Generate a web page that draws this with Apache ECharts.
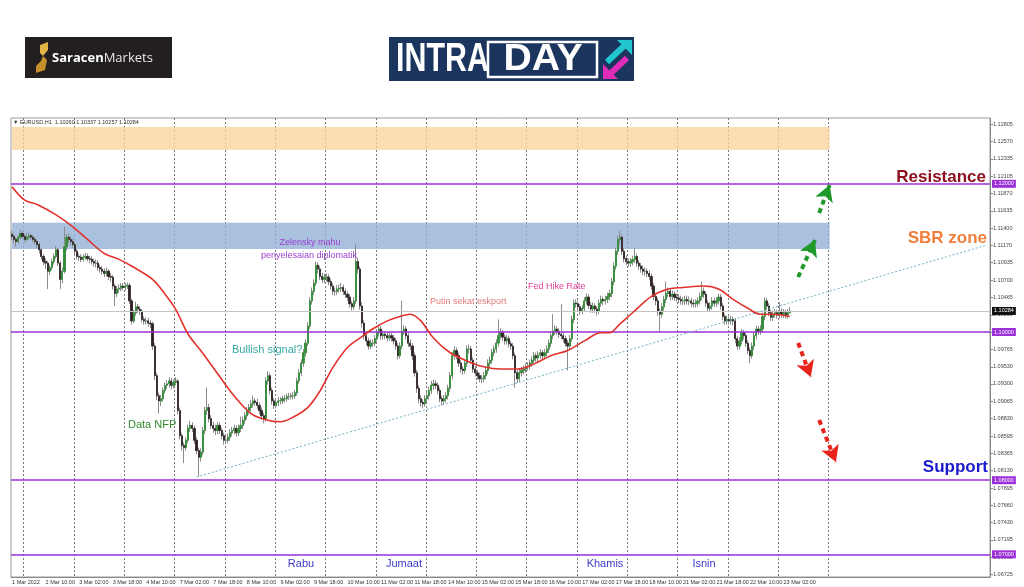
<!DOCTYPE html>
<html><head><meta charset="utf-8">
<script src="https://cdn.jsdelivr.net/npm/echarts@6/dist/echarts.min.js"></script>
<style>html,body{margin:0;padding:0;background:#fff}#c{width:1024px;height:587px}</style>
</head><body><div id="c"></div>
<script>
// x-axis tick labels (one every 16 hourly bars)
const xLabels = ['1 Mar 2022','2 Mar 10:00','3 Mar 02:00','3 Mar 18:00','4 Mar 10:00','7 Mar 02:00','7 Mar 18:00','8 Mar 10:00','9 Mar 02:00','9 Mar 18:00','10 Mar 10:00','11 Mar 02:00','11 Mar 18:00','14 Mar 10:00','15 Mar 02:00','15 Mar 18:00','16 Mar 10:00','17 Mar 02:00','17 Mar 18:00','18 Mar 10:00','21 Mar 02:00','21 Mar 18:00','22 Mar 10:00','23 Mar 02:00'];
// y-axis tick labels
const yTicks = [1.12805,1.12570,1.12335,1.12105,1.11870,1.11635,1.11400,1.11170,1.10935,1.10700,1.10465,1.10230,1.09995,1.09765,1.09530,1.09300,1.09065,1.08830,1.08595,1.08365,1.08130,1.07895,1.07660,1.07430,1.07195,1.06960,1.06725];
// EURUSD H1 candles [open, close, low, high]
const candles = [
[1.1132,1.1129,1.1124,1.1137],[1.1129,1.1125,1.1120,1.1133],[1.1125,1.1122,1.1115,1.1128],[1.1122,1.1128,1.1119,1.1131],[1.1128,1.1133,1.1125,1.1138],
[1.1133,1.1129,1.1126,1.1136],[1.1129,1.1125,1.1121,1.1132],[1.1125,1.1128,1.1122,1.1133],[1.1128,1.1130,1.1125,1.1134],[1.1130,1.1128,1.1124,1.1133],
[1.1128,1.1125,1.1121,1.1131],[1.1125,1.1122,1.1118,1.1128],[1.1122,1.1118,1.1114,1.1125],[1.1118,1.1111,1.1106,1.1121],[1.1111,1.1102,1.1098,1.1114],
[1.1102,1.1095,1.1090,1.1105],[1.1095,1.1093,1.1085,1.1099],[1.1093,1.1082,1.1058,1.1096],[1.1082,1.1087,1.1077,1.1091],[1.1087,1.1095,1.1083,1.1099],
[1.1095,1.1102,1.1091,1.1106],[1.1102,1.1111,1.1099,1.1116],[1.1111,1.1093,1.1089,1.1114],[1.1093,1.1071,1.1058,1.1096],[1.1071,1.1082,1.1066,1.1087],
[1.1082,1.1115,1.1079,1.1142],[1.1115,1.1128,1.1110,1.1132],[1.1128,1.1125,1.1120,1.1133],[1.1125,1.1122,1.1117,1.1129],[1.1122,1.1118,1.1114,1.1126],
[1.1118,1.1109,1.1105,1.1121],[1.1109,1.1102,1.1098,1.1112],[1.1102,1.1101,1.1096,1.1106],[1.1101,1.1098,1.1094,1.1105],[1.1098,1.1101,1.1095,1.1105],
[1.1101,1.1102,1.1097,1.1107],[1.1102,1.1099,1.1095,1.1106],[1.1099,1.1098,1.1093,1.1103],[1.1098,1.1095,1.1091,1.1102],[1.1095,1.1093,1.1088,1.1099],
[1.1093,1.1093,1.1087,1.1098],[1.1093,1.1087,1.1083,1.1097],[1.1087,1.1085,1.1080,1.1091],[1.1085,1.1082,1.1077,1.1089],[1.1082,1.1079,1.1074,1.1086],
[1.1079,1.1082,1.1075,1.1087],[1.1082,1.1075,1.1070,1.1085],[1.1075,1.1074,1.1068,1.1080],[1.1074,1.1062,1.1057,1.1077],[1.1062,1.1052,1.1035,1.1065],
[1.1052,1.1058,1.1047,1.1062],[1.1058,1.1059,1.1053,1.1064],[1.1059,1.1062,1.1055,1.1066],[1.1062,1.1060,1.1056,1.1066],[1.1060,1.1062,1.1056,1.1066],
[1.1062,1.1063,1.1058,1.1067],[1.1063,1.1042,1.1038,1.1066],[1.1042,1.1015,1.1010,1.1045],[1.1015,1.1026,1.1012,1.1030],[1.1026,1.1034,1.1022,1.1041],
[1.1034,1.1031,1.1026,1.1038],[1.1031,1.1028,1.1023,1.1035],[1.1028,1.1017,1.1013,1.1031],[1.1017,1.1015,1.1010,1.1021],[1.1015,1.1015,1.1010,1.1020],
[1.1015,1.1012,1.1007,1.1019],[1.1012,1.1011,1.1005,1.1016],[1.1011,1.0981,1.0976,1.1014],[1.0981,1.0941,1.0935,1.0985],[1.0941,1.0914,1.0908,1.0945],
[1.0914,1.0907,1.0890,1.0918],[1.0907,1.0910,1.0900,1.0915],[1.0910,1.0921,1.0906,1.0925],[1.0921,1.0928,1.0917,1.0932],[1.0928,1.0930,1.0923,1.0935],
[1.0930,1.0934,1.0925,1.0939],[1.0934,1.0928,1.0923,1.0938],[1.0928,1.0932,1.0924,1.0936],[1.0932,1.0934,1.0928,1.0939],[1.0934,1.0894,1.0889,1.0937],
[1.0894,1.0860,1.0855,1.0898],[1.0860,1.0847,1.0840,1.0864],[1.0847,1.0844,1.0823,1.0851],[1.0844,1.0854,1.0840,1.0858],[1.0854,1.0870,1.0850,1.0875],
[1.0870,1.0874,1.0865,1.0880],[1.0874,1.0870,1.0865,1.0878],[1.0870,1.0854,1.0849,1.0874],[1.0854,1.0840,1.0835,1.0858],[1.0840,1.0831,1.0805,1.0844],
[1.0831,1.0838,1.0825,1.0843],[1.0838,1.0867,1.0834,1.0872],[1.0867,1.0894,1.0862,1.0899],[1.0894,1.0898,1.0888,1.0925],[1.0898,1.0883,1.0878,1.0903],
[1.0883,1.0874,1.0869,1.0888],[1.0874,1.0870,1.0864,1.0879],[1.0870,1.0867,1.0861,1.0875],[1.0867,1.0874,1.0862,1.0879],[1.0874,1.0867,1.0862,1.0878],
[1.0867,1.0860,1.0855,1.0871],[1.0860,1.0854,1.0848,1.0864],[1.0854,1.0854,1.0849,1.0860],[1.0854,1.0858,1.0850,1.0863],[1.0858,1.0864,1.0853,1.0869],
[1.0864,1.0867,1.0859,1.0872],[1.0867,1.0870,1.0862,1.0875],[1.0870,1.0864,1.0859,1.0874],[1.0864,1.0870,1.0860,1.0875],[1.0870,1.0874,1.0865,1.0886],
[1.0874,1.0881,1.0869,1.0886],[1.0881,1.0887,1.0876,1.0892],[1.0887,1.0894,1.0882,1.0899],[1.0894,1.0898,1.0889,1.0903],[1.0898,1.0903,1.0893,1.0908],
[1.0903,1.0907,1.0898,1.0914],[1.0907,1.0905,1.0900,1.0911],[1.0905,1.0901,1.0896,1.0910],[1.0901,1.0894,1.0889,1.0905],[1.0894,1.0887,1.0882,1.0898],
[1.0887,1.0883,1.0877,1.0891],[1.0883,1.0934,1.0879,1.0939],[1.0934,1.0941,1.0929,1.0947],[1.0941,1.0921,1.0916,1.0945],[1.0921,1.0907,1.0902,1.0925],
[1.0907,1.0901,1.0896,1.0911],[1.0901,1.0905,1.0897,1.0910],[1.0905,1.0907,1.0900,1.0912],[1.0907,1.0907,1.0902,1.0912],[1.0907,1.0910,1.0903,1.0914],
[1.0910,1.0910,1.0905,1.0915],[1.0910,1.0913,1.0906,1.0917],[1.0913,1.0913,1.0908,1.0918],[1.0913,1.0914,1.0909,1.0918],[1.0914,1.0914,1.0909,1.0919],
[1.0914,1.0918,1.0910,1.0922],[1.0918,1.0934,1.0914,1.0938],[1.0934,1.0945,1.0930,1.0950],[1.0945,1.0958,1.0941,1.0963],[1.0958,1.0972,1.0953,1.0977],
[1.0972,1.0985,1.0967,1.0990],[1.0985,1.1008,1.0981,1.1013],[1.1008,1.1042,1.1004,1.1047],[1.1042,1.1055,1.1037,1.1060],[1.1055,1.1066,1.1050,1.1071],
[1.1066,1.1090,1.1062,1.1095],[1.1090,1.1085,1.1079,1.1094],[1.1085,1.1075,1.1070,1.1089],[1.1075,1.1071,1.1066,1.1080],[1.1071,1.1074,1.1066,1.1079],
[1.1074,1.1074,1.1068,1.1079],[1.1074,1.1068,1.1063,1.1078],[1.1068,1.1062,1.1057,1.1072],[1.1062,1.1055,1.1050,1.1066],[1.1055,1.1055,1.1049,1.1060],
[1.1055,1.1058,1.1050,1.1063],[1.1058,1.1059,1.1053,1.1064],[1.1059,1.1060,1.1054,1.1066],[1.1060,1.1055,1.1050,1.1064],[1.1055,1.1051,1.1046,1.1059],
[1.1051,1.1047,1.1042,1.1055],[1.1047,1.1038,1.1033,1.1051],[1.1038,1.1034,1.1029,1.1042],[1.1034,1.1042,1.1030,1.1047],[1.1042,1.1095,1.1038,1.1118],
[1.1095,1.1085,1.1079,1.1100],[1.1085,1.1035,1.1030,1.1089],[1.1035,1.1012,1.1006,1.1040],[1.1012,1.0995,1.0990,1.1016],[1.0995,1.0988,1.0982,1.0999],
[1.0988,1.0981,1.0976,1.0992],[1.0981,1.0985,1.0977,1.0990],[1.0985,1.0985,1.0980,1.0990],[1.0985,1.0991,1.0981,1.0996],[1.0991,1.0999,1.0987,1.1004],
[1.0999,1.1004,1.0994,1.1010],[1.1004,1.0995,1.0990,1.1008],[1.0995,1.0997,1.0990,1.1002],[1.0997,1.0995,1.0990,1.1001],[1.0995,1.0992,1.0987,1.0999],
[1.0992,1.0995,1.0988,1.1000],[1.0995,1.0992,1.0987,1.0999],[1.0992,1.0988,1.0983,1.0996],[1.0988,1.0981,1.0976,1.0992],[1.0981,1.0968,1.0963,1.0985],
[1.0968,1.0981,1.0964,1.0986],[1.0981,1.1001,1.0977,1.1042],[1.1001,1.1004,1.0996,1.1009],[1.1004,1.0995,1.0990,1.1008],[1.0995,1.0985,1.0980,1.0999],
[1.0985,1.0981,1.0976,1.0990],[1.0981,1.0968,1.0962,1.0985],[1.0968,1.0945,1.0940,1.0972],[1.0945,1.0924,1.0918,1.0949],[1.0924,1.0910,1.0904,1.0928],
[1.0910,1.0905,1.0899,1.0915],[1.0905,1.0903,1.0897,1.0909],[1.0903,1.0910,1.0899,1.0915],[1.0910,1.0914,1.0905,1.0919],[1.0914,1.0921,1.0909,1.0926],
[1.0921,1.0928,1.0916,1.0934],[1.0928,1.0930,1.0922,1.0936],[1.0930,1.0928,1.0923,1.0935],[1.0928,1.0921,1.0916,1.0932],[1.0921,1.0910,1.0905,1.0925],
[1.0910,1.0907,1.0901,1.0914],[1.0907,1.0910,1.0902,1.0915],[1.0910,1.0914,1.0905,1.0919],[1.0914,1.0924,1.0909,1.0929],[1.0924,1.0941,1.0919,1.0946],
[1.0941,1.0968,1.0936,1.0973],[1.0968,1.0975,1.0963,1.0981],[1.0975,1.0968,1.0963,1.0979],[1.0968,1.0958,1.0953,1.0972],[1.0958,1.0950,1.0945,1.0962],
[1.0950,1.0948,1.0942,1.0954],[1.0948,1.0958,1.0944,1.0963],[1.0958,1.0977,1.0953,1.0982],[1.0977,1.0977,1.0971,1.0983],[1.0977,1.0962,1.0957,1.0981],
[1.0962,1.0950,1.0945,1.0966],[1.0950,1.0945,1.0940,1.0954],[1.0945,1.0941,1.0936,1.0949],[1.0941,1.0937,1.0932,1.0945],[1.0937,1.0937,1.0931,1.0942],
[1.0937,1.0941,1.0932,1.0946],[1.0941,1.0948,1.0936,1.0953],[1.0948,1.0958,1.0943,1.0963],[1.0958,1.0962,1.0953,1.0967],[1.0962,1.0972,1.0957,1.0977],
[1.0972,1.0977,1.0967,1.0982],[1.0977,1.0985,1.0972,1.0990],[1.0985,1.0995,1.0980,1.1017],[1.0995,1.0999,1.0990,1.1005],[1.0999,1.0993,1.0988,1.1003],
[1.0993,1.0988,1.0983,1.0997],[1.0988,1.0991,1.0983,1.0996],[1.0991,1.0984,1.0979,1.0995],[1.0984,1.0981,1.0976,1.0988],[1.0981,1.0968,1.0963,1.0985],
[1.0968,1.0945,1.0925,1.0972],[1.0945,1.0937,1.0931,1.0949],[1.0937,1.0945,1.0933,1.0950],[1.0945,1.0948,1.0940,1.0953],[1.0948,1.0950,1.0943,1.0955],
[1.0950,1.0953,1.0945,1.0958],[1.0953,1.0954,1.0948,1.0959],[1.0954,1.0958,1.0949,1.0963],[1.0958,1.0962,1.0953,1.0967],[1.0962,1.0968,1.0957,1.0973],
[1.0968,1.0965,1.0960,1.0972],[1.0965,1.0969,1.0960,1.0974],[1.0969,1.0972,1.0964,1.0977],[1.0972,1.0968,1.0963,1.0976],[1.0968,1.0972,1.0963,1.0977],
[1.0972,1.0977,1.0967,1.0982],[1.0977,1.0985,1.0972,1.0990],[1.0985,1.0995,1.0980,1.1000],[1.0995,1.1001,1.0990,1.1024],[1.1001,1.1004,1.0996,1.1009],
[1.1004,1.1001,1.0996,1.1008],[1.1001,1.0997,1.0992,1.1005],[1.0997,1.0995,1.0990,1.1038],[1.0995,1.0991,1.0986,1.0999],[1.0991,1.0985,1.0980,1.0995],
[1.0985,1.0981,1.0948,1.0989],[1.0981,1.0991,1.0977,1.0996],[1.0991,1.1017,1.0987,1.1022],[1.1017,1.1039,1.1012,1.1044],[1.1039,1.1038,1.1033,1.1044],
[1.1038,1.1034,1.1029,1.1042],[1.1034,1.1028,1.1023,1.1038],[1.1028,1.1032,1.1024,1.1037],[1.1032,1.1042,1.1027,1.1047],[1.1042,1.1047,1.1037,1.1052],
[1.1047,1.1036,1.1031,1.1051],[1.1036,1.1031,1.1026,1.1040],[1.1031,1.1035,1.1026,1.1040],[1.1035,1.1031,1.1026,1.1039],[1.1031,1.1028,1.1022,1.1035],
[1.1028,1.1039,1.1024,1.1044],[1.1039,1.1044,1.1034,1.1049],[1.1044,1.1042,1.1036,1.1048],[1.1042,1.1044,1.1037,1.1049],[1.1044,1.1048,1.1039,1.1053],
[1.1048,1.1052,1.1043,1.1057],[1.1052,1.1068,1.1047,1.1073],[1.1068,1.1089,1.1063,1.1094],[1.1089,1.1109,1.1084,1.1114],[1.1109,1.1125,1.1104,1.1130],
[1.1125,1.1128,1.1119,1.1137],[1.1128,1.1109,1.1104,1.1132],[1.1109,1.1099,1.1094,1.1113],[1.1099,1.1095,1.1090,1.1103],[1.1095,1.1093,1.1088,1.1099],
[1.1093,1.1095,1.1088,1.1100],[1.1095,1.1098,1.1090,1.1103],[1.1098,1.1102,1.1093,1.1113],[1.1102,1.1093,1.1088,1.1106],[1.1093,1.1089,1.1084,1.1097],
[1.1089,1.1085,1.1080,1.1093],[1.1085,1.1082,1.1077,1.1090],[1.1082,1.1082,1.1076,1.1087],[1.1082,1.1079,1.1074,1.1086],[1.1079,1.1075,1.1070,1.1083],
[1.1075,1.1062,1.1057,1.1079],[1.1062,1.1048,1.1043,1.1066],[1.1048,1.1042,1.1036,1.1052],[1.1042,1.1028,1.1022,1.1046],[1.1028,1.1024,1.1001,1.1032],
[1.1024,1.1034,1.1019,1.1039],[1.1034,1.1044,1.1029,1.1049],[1.1044,1.1052,1.1039,1.1068],[1.1052,1.1055,1.1047,1.1060],[1.1055,1.1048,1.1043,1.1059],
[1.1048,1.1051,1.1043,1.1056],[1.1051,1.1047,1.1042,1.1055],[1.1047,1.1046,1.1041,1.1052],[1.1046,1.1044,1.1039,1.1051],[1.1044,1.1042,1.1037,1.1049],
[1.1042,1.1042,1.1036,1.1047],[1.1042,1.1044,1.1037,1.1049],[1.1044,1.1042,1.1037,1.1049],[1.1042,1.1042,1.1036,1.1048],[1.1042,1.1039,1.1034,1.1046],
[1.1039,1.1038,1.1033,1.1044],[1.1038,1.1039,1.1033,1.1044],[1.1039,1.1042,1.1034,1.1047],[1.1042,1.1048,1.1037,1.1053],[1.1048,1.1055,1.1043,1.1068],
[1.1055,1.1051,1.1046,1.1060],[1.1051,1.1039,1.1034,1.1055],[1.1039,1.1032,1.1027,1.1043],[1.1032,1.1035,1.1027,1.1040],[1.1035,1.1042,1.1030,1.1047],
[1.1042,1.1039,1.1034,1.1046],[1.1039,1.1042,1.1034,1.1047],[1.1042,1.1047,1.1037,1.1052],[1.1047,1.1035,1.1030,1.1051],[1.1035,1.1021,1.1016,1.1039],
[1.1021,1.1015,1.1010,1.1025],[1.1015,1.1017,1.1010,1.1022],[1.1017,1.1015,1.1010,1.1021],[1.1015,1.1017,1.1010,1.1022],[1.1017,1.1015,1.1009,1.1021],
[1.1015,1.0991,1.0985,1.1019],[1.0991,1.0981,1.0976,1.0995],[1.0981,1.0988,1.0976,1.0993],[1.0988,1.0999,1.0983,1.1004],[1.0999,1.0995,1.0990,1.1003],
[1.0995,1.0985,1.0980,1.0999],[1.0985,1.0975,1.0970,1.0989],[1.0975,1.0968,1.0958,1.0979],[1.0968,1.0981,1.0964,1.0986],[1.0981,1.0995,1.0976,1.1000],
[1.0995,1.1004,1.0990,1.1009],[1.1004,1.1001,1.0996,1.1008],[1.1001,1.1004,1.0996,1.1009],[1.1004,1.1021,1.0999,1.1026],[1.1021,1.1042,1.1016,1.1047],
[1.1042,1.1035,1.1030,1.1046],[1.1035,1.1026,1.1021,1.1039],[1.1026,1.1020,1.1015,1.1030],[1.1020,1.1024,1.1015,1.1029],[1.1024,1.1026,1.1019,1.1031],
[1.1026,1.1023,1.1018,1.1030],[1.1023,1.1028,1.1018,1.1040],[1.1028,1.1024,1.1019,1.1032],[1.1024,1.1026,1.1019,1.1031],[1.1026,1.1023,1.1018,1.1030],
[1.1023,1.1026,1.1018,1.1031],[1.10260,1.10284,1.10257,1.10337]
];
// red moving-average line: [bar index, value]
const maPoints = [[0,1.1196],[6,1.1178],[12,1.1172],[21,1.1158],[29,1.1142],[36,1.1125],[44,1.1106],[51,1.1098],[57,1.1089],[67,1.1071],[73,1.1051],[78,1.1031],[84,1.0997],[90,1.0975],[98,1.0944],[105,1.0917],[114,1.0890],[122,1.0881],[128,1.0879],[134,1.0885],[141,1.0898],[147,1.0921],[153,1.0952],[160,1.0979],[166,1.0992],[172,1.1004],[179,1.1015],[185,1.1021],[190,1.1024],[195,1.1015],[201,1.0992],[209,1.0972],[217,1.0961],[225,1.0953],[233,1.0950],[241,1.0950],[249,1.0957],[257,1.0968],[265,1.0975],[273,1.0988],[281,1.0999],[285,1.0999],[290,1.1011],[296,1.1026],[305,1.1048],[313,1.1058],[320,1.1060],[330,1.1062],[337,1.1058],[344,1.1044],[351,1.1032],[357,1.1024],[363,1.1024],[371,1.1021]];
// horizontal levels
const levels = [1.12000, 1.10000, 1.08000, 1.07000];
const lastPrice = 1.10284;
// zones [from bar, to bar, top, bottom]
const zoneOrange = [0, 390, 1.12767, 1.12456];
const zoneBlue = [0, 390, 1.11475, 1.11120];
// dotted trend line [bar, price]
const trendLine = [[88, 1.08043], [465, 1.11174]];
// projected arrows [[bar, price] from, [bar, price] to]
const arrowsUp = [[[375, 1.10742], [383, 1.11242]], [[385, 1.11606], [390, 1.11984]]];
const arrowsDown = [[[375, 1.09852], [381, 1.09393]], [[385, 1.08812], [393, 1.08246]]];
const totalBars = 467;

const cats = Array.from({length: totalBars}, (_, i) => String(i));
const bodies = candles.map(c => [c[0], c[1], Math.min(c[0], c[1]), Math.max(c[0], c[1])]);
const FONT = 'Liberation Sans, Arial, sans-serif';

const chart = echarts.init(document.getElementById('c'), null, {renderer: 'canvas'});
const labelIdx = i => i % 16 === 0 && i / 16 < xLabels.length;

const arrowItems = (list, color) => list.map(a => [
  {coord: a[0], symbol: 'none'},
  {coord: a[1], symbol: 'arrow', symbolSize: [14, 16], lineStyle: {color: color, width: 4, type: [5, 4]}, itemStyle: {color: color}}
]);

const txt = (text, x, y, size, color, opts) => ({type: 'text', z: 100, style: Object.assign({text: text, x: x, y: y, fontSize: size, fontFamily: FONT, fill: color, align: 'left', verticalAlign: 'middle'}, opts || {})});
const logoTxt = (text, x, y, size, sx, align) => ({type: 'text', z: 101, x: x, y: y, scaleX: sx, scaleY: 1,
  style: {text: text, x: 0, y: 0, align: align, verticalAlign: 'middle', fontSize: size, fontWeight: 'bold', fontFamily: FONT, fill: '#fff'}});

chart.setOption({
  animation: false,
  backgroundColor: '#fff',
  grid: {left: 11, right: 34, top: 118, bottom: 10, show: true, borderColor: '#9a9a9a', borderWidth: 1},
  xAxis: {
    type: 'category', data: cats, boundaryGap: true,
    axisLine: {lineStyle: {color: '#888'}},
    axisTick: {interval: labelIdx, alignWithLabel: true, length: 3, lineStyle: {color: '#888'}},
    axisLabel: {interval: labelIdx, formatter: (v, i) => xLabels[Math.round(Number(v) / 16)], fontSize: 5.5, color: '#333', align: 'left', margin: 2, fontFamily: FONT},
    splitLine: {show: true, interval: i => i % 24 === 6 && i <= 390, lineStyle: {color: '#777', type: [2, 2], width: 1}}
  },
  yAxis: {
    type: 'value', position: 'right', min: 1.06694, max: 1.12888, scale: true,
    axisLine: {show: true, lineStyle: {color: '#888'}},
    axisTick: {show: true, customValues: yTicks, length: 3, lineStyle: {color: '#888'}},
    axisLabel: {customValues: yTicks, formatter: v => v.toFixed(5), fontSize: 5.5, color: '#444', margin: 3, fontFamily: FONT},
    splitLine: {show: false}
  },
  series: [
    {
      type: 'line', data: [], z: 1, silent: true,
      markArea: {silent: true, data: [
        [{xAxis: zoneOrange[0], yAxis: zoneOrange[2], itemStyle: {color: 'rgba(252,212,159,0.8)'}}, {xAxis: zoneOrange[1], yAxis: zoneOrange[3]}],
        [{xAxis: zoneBlue[0], yAxis: zoneBlue[2], itemStyle: {color: 'rgba(148,176,214,0.8)'}}, {xAxis: zoneBlue[1], yAxis: zoneBlue[3]}]
      ]}
    },
    {
      type: 'line', data: [], z: 2, silent: true,
      markLine: {silent: true, symbol: 'none', precision: 5, animation: false, data: [
        {yAxis: lastPrice, lineStyle: {color: '#c4c4c4', width: 1, type: 'solid'},
          label: {show: true, position: 'end', distance: 2, formatter: lastPrice.toFixed(5), backgroundColor: '#111', color: '#fff', fontSize: 5.5, padding: [1, 2], fontFamily: FONT}}
      ].concat(levels.map(v => ({yAxis: v, lineStyle: {color: '#9b30d8', width: 1.5, type: 'solid'},
          label: {show: true, position: 'end', distance: 2, formatter: v.toFixed(5), backgroundColor: '#9b30d8', color: '#fff', fontSize: 5.5, padding: [1, 2], fontFamily: FONT}})))}
    },
    {
      name: 'wicks', type: 'candlestick', data: candles, barWidth: 1.6, z: 3,
      itemStyle: {color: '#8c8c8c', color0: '#8c8c8c', borderColor: '#8c8c8c', borderColor0: '#8c8c8c', borderWidth: 1}
    },
    {
      name: 'bodies', type: 'candlestick', data: bodies, barWidth: 1.7, z: 4,
      itemStyle: {color: '#2f8f35', color0: '#2e2222', borderColor: '#2f8f35', borderColor0: '#2e2222', borderWidth: 0.7}
    },
    {
      name: 'MA', type: 'line', data: maPoints, smooth: 0.35, showSymbol: false, z: 5,
      lineStyle: {color: '#e2322c', width: 1.6}
    },
    {
      type: 'line', data: [], z: 6, silent: true,
      markLine: {silent: true, animation: false, precision: 5, label: {show: false}, data: [
        [{coord: trendLine[0], symbol: 'none'}, {coord: trendLine[1], symbol: 'none', lineStyle: {color: '#6fb2c2', width: 1, type: [2, 2]}}]
      ].concat(arrowItems(arrowsUp, '#1f9a2a')).concat(arrowItems(arrowsDown, '#e8231b'))}
    }
  ],
  graphic: [
    // Saracen Markets logo
    {type: 'rect', shape: {x: 25, y: 37, width: 147, height: 41}, style: {fill: '#231f20'}, z: 100},
    {type: 'polygon', shape: {points: [[40,45],[48,42],[48,50],[43,56],[40,53]]}, style: {fill: '#e3b447'}, z: 101},
    {type: 'polygon', shape: {points: [[43,56],[47,60],[45,70],[36,73],[36,66],[41,61]]}, style: {fill: '#c8902a'}, z: 101},
    {type: 'text', z: 101, style: {text: '{a|Saracen}{b|Markets}', x: 52, y: 58, verticalAlign: 'middle', rich: {
      a: {fontSize: 13, fontWeight: 'bold', fill: '#fff', fontFamily: 'Open Sans, ' + FONT},
      b: {fontSize: 13, fill: '#e8e8e8', fontFamily: 'Open Sans, ' + FONT}}}},
    // INTRADAY logo
    {type: 'rect', shape: {x: 389, y: 37, width: 245, height: 44}, style: {fill: '#1c355e'}, z: 100},
    logoTxt('INTRA', 396, 60, 40, 0.76, 'left'),
    {type: 'rect', shape: {x: 488, y: 42, width: 109, height: 35}, style: {fill: 'none', stroke: '#fff', lineWidth: 2.5}, z: 101},
    logoTxt('DAY', 543, 60, 37, 1.06, 'center'),
    {type: 'line', shape: {x1: 607, y1: 62, x2: 624, y2: 46}, style: {stroke: '#22c6cf', lineWidth: 6}, z: 101},
    {type: 'polygon', shape: {points: [[617,40],[632,40],[632,55]]}, style: {fill: '#22c6cf'}, z: 101},
    {type: 'line', shape: {x1: 627, y1: 58, x2: 611, y2: 73}, style: {stroke: '#e02bb8', lineWidth: 6}, z: 101},
    {type: 'polygon', shape: {points: [[603,79],[603,64],[618,79]]}, style: {fill: '#e02bb8'}, z: 101},
    // chart header
    txt('\u25BC EURUSD,H1  1.10260 1.10337 1.10257 1.10284', 13, 122, 5.5, '#333'),
    // annotations
    txt('Zelensky mahu', 310, 243, 9, '#9b3fd0', {align: 'center'}),
    txt('penyelesaian diplomatik', 309, 256, 9, '#9b3fd0', {align: 'center'}),
    txt('Bullish signal?', 232, 350, 11, '#35a9a6'),
    txt('Putin sekat eskport', 430, 302, 9, '#e07c7c'),
    txt('Fed Hike Rate', 528, 287, 9, '#e0409a'),
    txt('Data NFP', 128, 425, 11, '#2e8b2e'),
    txt('Resistance', 986, 177, 17, '#8b0f1d', {align: 'right', fontWeight: 'bold'}),
    txt('SBR zone', 987, 238, 17, '#f07f3c', {align: 'right', fontWeight: 'bold'}),
    txt('Support', 988, 467, 17, '#1a1acc', {align: 'right', fontWeight: 'bold'}),
    txt('Rabu', 301, 564, 11, '#3a3ac4', {align: 'center'}),
    txt('Jumaat', 404, 564, 11, '#3a3ac4', {align: 'center'}),
    txt('Khamis', 605, 564, 11, '#3a3ac4', {align: 'center'}),
    txt('Isnin', 704, 564, 11, '#3a3ac4', {align: 'center'})
  ]
});
</script>
</body></html>
